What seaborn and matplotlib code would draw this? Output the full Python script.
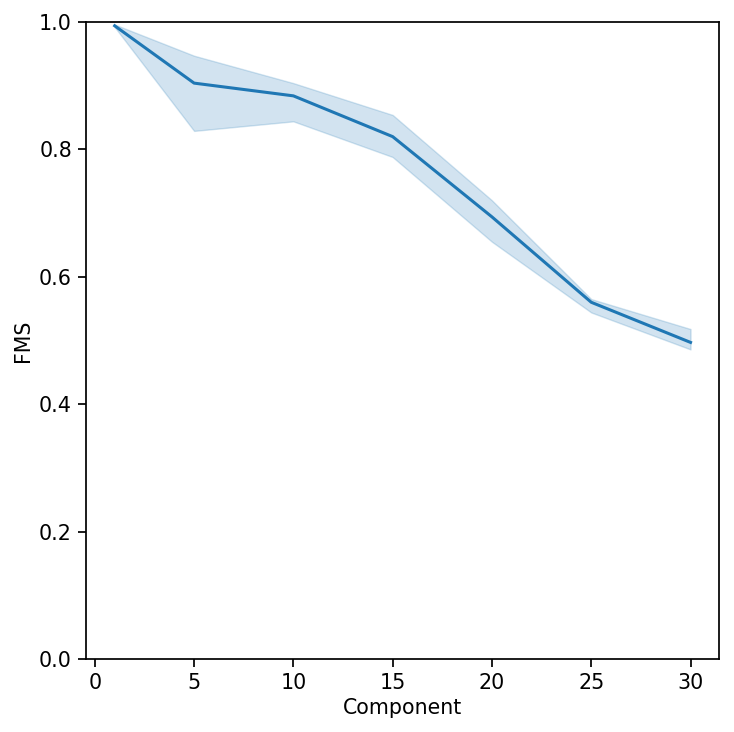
import matplotlib
matplotlib.use("Agg")
import matplotlib.pyplot as plt
import seaborn as sns
import pandas as pd

# FMS per component count: centre line plus band limits
components = [1, 5, 10, 15, 20, 25, 30]
fms_mean = [0.994, 0.904, 0.884, 0.820, 0.694, 0.560, 0.497]
fms_low = [0.992, 0.829, 0.844, 0.788, 0.655, 0.544, 0.486]
fms_high = [0.996, 0.947, 0.904, 0.854, 0.720, 0.565, 0.518]

rows = []
for c, lo, m, hi in zip(components, fms_low, fms_mean, fms_high):
    for v in (lo, m, hi):
        rows.append({"Component": c, "FMS": v})
df = pd.DataFrame(rows)

sns.set_context("notebook", font_scale=1.35)
plt.rcParams['font.family'] = ['DejaVu Sans']
plt.rcParams['axes.labelsize'] = 14.8

fig = plt.figure(figsize=(7.34, 7.32), dpi=100)
ax = fig.add_axes([0.117, 0.0997, 0.863, 0.8703])
sns.lineplot(data=df, x="Component", y="FMS", estimator="median",
             errorbar=("pi", 100), color="#1f77b4", linewidth=2.2, ax=ax)
ax.set_ylim(0, 1.0)
ax.tick_params(length=6, width=1.25, pad=4)
for s in ax.spines.values():
    s.set_linewidth(1.25)
fig.savefig("out.png", dpi=100)
plt.close(fig)
